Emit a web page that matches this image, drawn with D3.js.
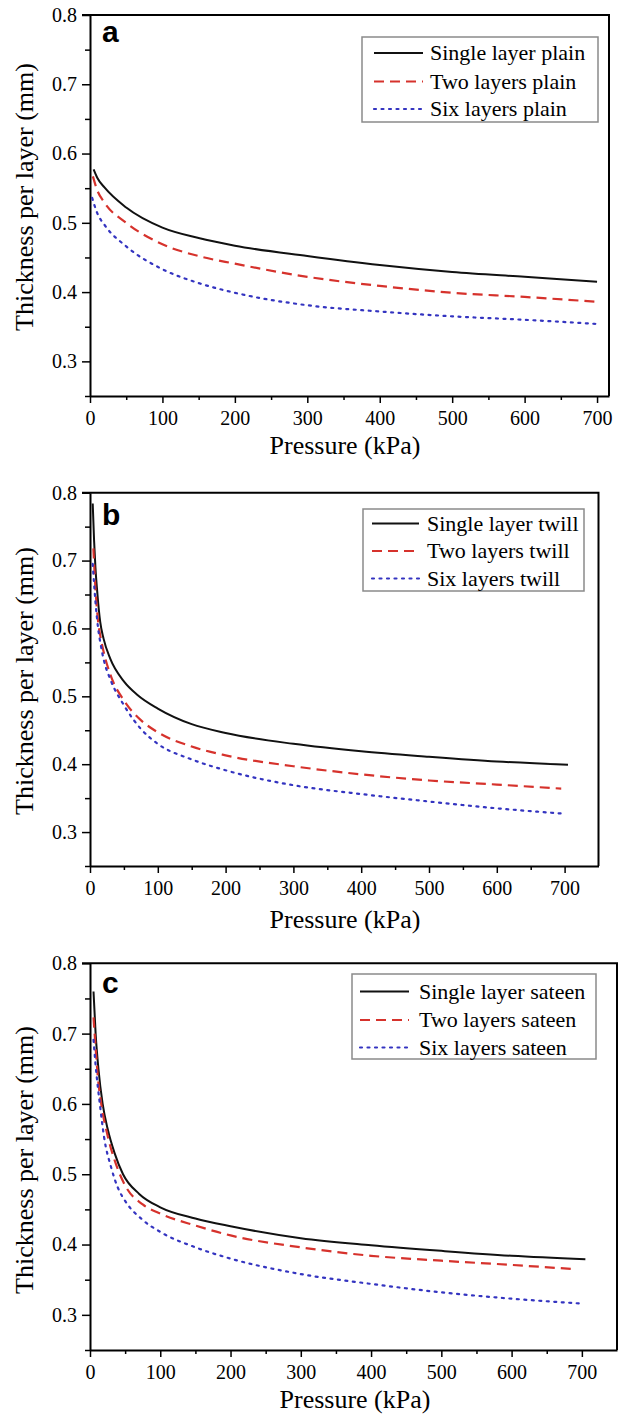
<!DOCTYPE html>
<html lang="en">
<head>
<meta charset="utf-8">
<title>Thickness per layer vs pressure</title>
<script src="https://d3js.org/d3.v7.min.js"></script>
<style>
  body { margin: 0; background: #fff; }
  svg text { font-family: "Liberation Serif", "Times New Roman", serif; fill: #000; }
</style>
</head>
<body>
<script>
// data, [pressure kPa, thickness mm]
var plainSingle = [[5,0.577],[10,0.565],[20,0.551],[50,0.522],[100,0.493],[150,0.478],[200,0.467],[300,0.452],[400,0.439],[500,0.429],[600,0.422],[700,0.415]];
var plainTwo    = [[4,0.567],[10,0.547],[20,0.529],[50,0.500],[100,0.469],[150,0.452],[200,0.441],[300,0.422],[400,0.409],[500,0.399],[600,0.393],[700,0.386]];
var plainSix    = [[3,0.536],[10,0.514],[20,0.497],[50,0.466],[100,0.433],[150,0.413],[200,0.399],[300,0.381],[400,0.372],[500,0.365],[600,0.360],[700,0.354]];

var twillSingle = [[4,0.784],[6,0.73],[8,0.69],[11,0.65],[15,0.61],[20,0.585],[30,0.555],[50,0.522],[70,0.502],[100,0.482],[150,0.459],[200,0.446],[300,0.430],[400,0.419],[500,0.411],[600,0.404],[705,0.399]];
var twillTwo    = [[5,0.718],[8,0.66],[12,0.61],[16,0.585],[20,0.566],[30,0.532],[50,0.494],[75,0.465],[100,0.447],[150,0.426],[200,0.413],[300,0.397],[400,0.385],[500,0.376],[600,0.370],[695,0.364]];
var twillSix    = [[4,0.695],[8,0.64],[12,0.60],[16,0.575],[20,0.555],[30,0.525],[50,0.487],[75,0.452],[100,0.430],[150,0.407],[200,0.391],[300,0.369],[400,0.356],[500,0.345],[600,0.335],[700,0.327]];

var sateenSingle = [[5,0.76],[8,0.70],[12,0.65],[18,0.60],[25,0.565],[35,0.53],[47,0.50],[70,0.472],[100,0.453],[150,0.437],[200,0.426],[300,0.409],[400,0.399],[500,0.391],[600,0.384],[705,0.379]];
var sateenTwo    = [[5,0.723],[8,0.68],[11,0.64],[16,0.60],[25,0.555],[35,0.52],[50,0.484],[75,0.457],[100,0.444],[150,0.427],[200,0.413],[300,0.396],[400,0.384],[500,0.377],[600,0.371],[690,0.365]];
var sateenSix    = [[5,0.691],[8,0.655],[14,0.60],[20,0.553],[30,0.51],[40,0.48],[50,0.462],[75,0.435],[100,0.418],[150,0.396],[200,0.380],[300,0.358],[400,0.344],[500,0.332],[600,0.323],[700,0.316]];

var xMajor = [0, 100, 200, 300, 400, 500, 600, 700];
var yMajor = [0.3, 0.4, 0.5, 0.6, 0.7, 0.8];
var legendNames = ["Single layer", "Two layers", "Six layers"];
var weaves = ["plain", "twill", "sateen"];
var panelLetters = ["a", "b", "c"];

// styles per series
var seriesStyle = [
  {color: "#111", dash: null, width: 2},
  {color: "#d6322c", dash: "10,6", width: 2.2},
  {color: "#3434c0", dash: "2,5.5", width: 2.2}
];

var serif = "'Liberation Serif', 'Times New Roman', serif";

// panel frames (pixels)
var panels = [
  {left: 90, right: 609, top: 15, bottom: 396, xMax: 716.5, data: [plainSingle, plainTwo, plainSix],
   legend: {x0: 362, x1: 598, y0: 37, y1: 122, line0: 374, line1: 423, text: 430, rows: [53, 81.5, 109]},
   ylabY: 197, xlabX: 345, xlabY: 454, letter: [102, 42]},
  {left: 90, right: 598.5, top: 492.7, bottom: 866, xMax: 750, data: [twillSingle, twillTwo, twillSix],
   legend: {x0: 363, x1: 584, y0: 509, y1: 591, line0: 372, line1: 419, text: 427, rows: [523.5, 551, 578.5]},
   ylabY: 681, xlabX: 345, xlabY: 928, letter: [102, 525]},
  {left: 90, right: 617, top: 963.3, bottom: 1350, xMax: 750, data: [sateenSingle, sateenTwo, sateenSix],
   legend: {x0: 352, x1: 596, y0: 974, y1: 1059, line0: 360, line1: 409, text: 419, rows: [991.5, 1020, 1047.5]},
   ylabY: 1160, xlabX: 355, xlabY: 1408, letter: [102, 993]}
];

var svg = d3.select("body").append("svg")
  .attr("width", 618).attr("height", 1417);

panels.forEach(function(p, i) {
  var x = d3.scaleLinear().domain([0, p.xMax]).range([p.left, p.right]);
  var y = d3.scaleLinear().domain([0.25, 0.8]).range([p.bottom, p.top]);
  var g = svg.append("g");

  // frame (top and right)
  g.append("path")
    .attr("d", "M" + (p.left - 8) + "," + p.top + "H" + p.right + "V" + p.bottom)
    .attr("fill", "none").attr("stroke", "#000").attr("stroke-width", 2);

  // minor ticks
  var xMinor = d3.range(50, p.xMax, 100);
  var yMinor = [0.25, 0.35, 0.45, 0.55, 0.65, 0.75];
  g.append("g").attr("transform", "translate(0," + p.bottom + ")")
    .call(d3.axisBottom(x).tickValues(xMinor).tickSize(4).tickFormat(""))
    .call(function(s) { s.select(".domain").remove(); s.selectAll("line").attr("stroke-width", 1.5); });
  g.append("g").attr("transform", "translate(" + p.left + ",0)")
    .call(d3.axisLeft(y).tickValues(yMinor).tickSize(5).tickFormat(""))
    .call(function(s) { s.select(".domain").remove(); s.selectAll("line").attr("stroke-width", 1.5); });

  // major axes
  var xa = g.append("g").attr("transform", "translate(0," + p.bottom + ")")
    .call(d3.axisBottom(x).tickValues(xMajor).tickSize(7).tickSizeOuter(0).tickPadding(8).tickFormat(d3.format("d")));
  var ya = g.append("g").attr("transform", "translate(" + p.left + ",0)")
    .call(d3.axisLeft(y).tickValues(yMajor).tickSize(8).tickSizeOuter(0).tickPadding(5).tickFormat(d3.format(".1f")));
  [xa, ya].forEach(function(a) {
    a.attr("font-family", serif).attr("font-size", 20);
    a.select(".domain").attr("stroke-width", 2);
    a.selectAll("line").attr("stroke-width", 1.5);
    a.selectAll("text")
      .attr("font-family", serif)
      .attr("font-size", 20)
      .style("font-family", serif)
      .style("font-size", "20px")
      .attr("fill", "#000");
  });

  // curves
  var line = d3.line()
    .x(function(d) { return x(d[0]); })
    .y(function(d) { return y(d[1]); })
    .curve(d3.curveMonotoneX);
  p.data.forEach(function(series, k) {
    var st = seriesStyle[k];
    g.append("path").datum(series)
      .attr("d", line)
      .attr("fill", "none")
      .attr("stroke", st.color)
      .attr("stroke-width", st.width)
      .attr("stroke-linecap", k === 2 ? "round" : "butt")
      .attr("stroke-dasharray", st.dash);
  });

  // legend
  var L = p.legend;
  g.append("rect")
    .attr("x", L.x0).attr("y", L.y0).attr("width", L.x1 - L.x0).attr("height", L.y1 - L.y0)
    .attr("fill", "#fff").attr("stroke", "#8a8a8a").attr("stroke-width", 1.5);
  legendNames.forEach(function(name, k) {
    var st = seriesStyle[k];
    g.append("line")
      .attr("x1", L.line0).attr("x2", L.line1).attr("y1", L.rows[k]).attr("y2", L.rows[k])
      .attr("stroke", st.color).attr("stroke-width", st.width)
      .attr("stroke-linecap", k === 2 ? "round" : "butt")
      .attr("stroke-dasharray", st.dash);
    g.append("text")
      .attr("x", L.text).attr("y", L.rows[k] + 7)
      .style("font-family", serif)
      .style("font-size", "22px")
      .text(name + " " + weaves[i]);
  });

  // panel letter
  g.append("text")
    .attr("x", p.letter[0]).attr("y", p.letter[1])
    .style("font-family", "'Liberation Sans', Arial, sans-serif")
    .style("font-weight", "bold")
    .style("font-size", "30px")
    .text(panelLetters[i]);

  // axis titles
  g.append("text")
    .attr("x", p.xlabX).attr("y", p.xlabY)
    .attr("text-anchor", "middle")
    .style("font-family", serif)
    .style("font-size", "26px")
    .text("Pressure (kPa)");
  g.append("text")
    .attr("transform", "translate(33," + p.ylabY + ") rotate(-90)")
    .attr("text-anchor", "middle")
    .style("font-family", serif)
    .style("font-size", "26px")
    .text("Thickness per layer (mm)");
});
</script>
</body>
</html>
